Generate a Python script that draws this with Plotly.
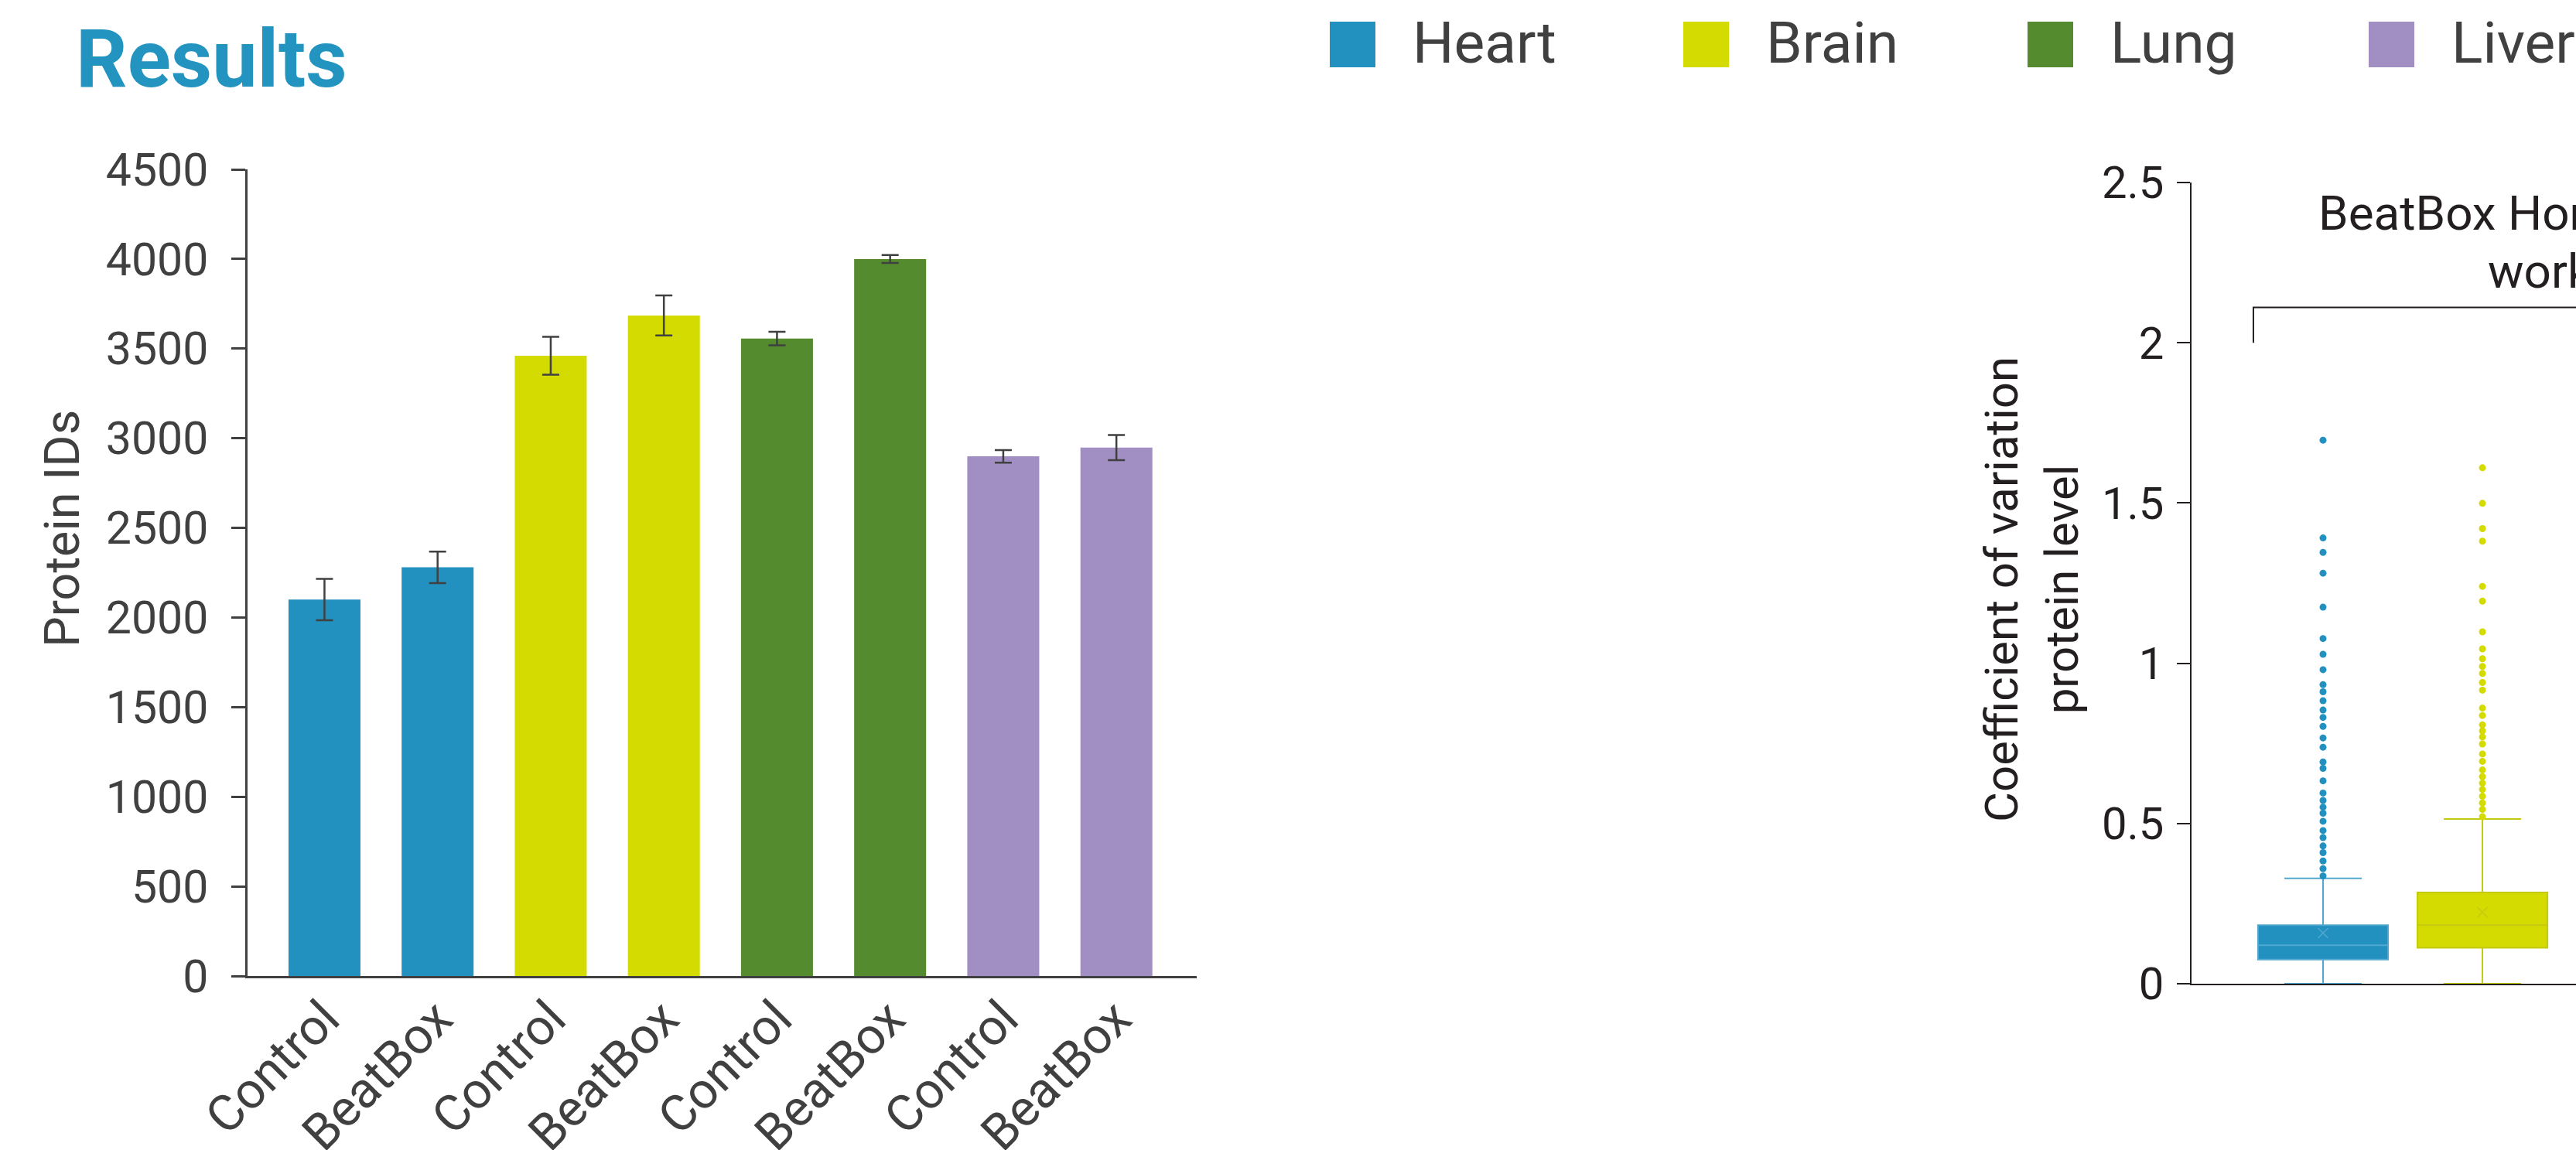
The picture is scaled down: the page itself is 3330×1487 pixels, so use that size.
import plotly.graph_objects as go

# ---------------- data ----------------
tissues = ["Heart", "Brain", "Lung", "Liver"]
tissue_colors = ["#2291C0", "#D4DB00", "#548B2E", "#A18FC3"]
box_line_colors = ["#52A8CE", "#C4CA12"]
conditions = ["Control", "BeatBox"]

# bar chart: protein IDs (Control, BeatBox for each tissue)
protein_ids = [2100, 2280, 3460, 3685, 3556, 4000, 2899, 2948]
protein_err = [115, 88, 106, 112, 38, 22, 35, 70]
bar_labels = ["Control", "BeatBox", "Control", "BeatBox", "Control", "BeatBox", "Control", "BeatBox"]
bar_tissue = ["Heart", "Heart", "Brain", "Brain", "Lung", "Lung", "Liver", "Liver"]

# box plot: coefficient of variation (BeatBox workflow)
box_tissues = ["Heart", "Brain"]
cv_q1 = [0.0755, 0.112]
cv_median = [0.120, 0.183]
cv_q3 = [0.183, 0.285]
cv_mean = [0.158, 0.223]
cv_lowerfence = [0.0, 0.0]
cv_upperfence = [0.329, 0.514]
heart_outliers = [1.696, 1.391, 1.346, 1.281, 1.175, 1.077, 1.028, 0.980, 0.933, 0.911,
                  0.883, 0.854, 0.831, 0.803, 0.767, 0.738, 0.692, 0.672, 0.633, 0.595,
                  0.572, 0.551, 0.532, 0.507, 0.478, 0.456, 0.430, 0.409, 0.383, 0.359, 0.336]
brain_outliers = [1.610, 1.499, 1.420, 1.381, 1.240, 1.194, 1.098, 1.045, 1.014, 0.990,
                  0.968, 0.940, 0.916, 0.860, 0.837, 0.808, 0.789, 0.770, 0.748, 0.717,
                  0.694, 0.667, 0.646, 0.626, 0.606, 0.585, 0.564, 0.544, 0.521]
box_yticks = [0, 0.5, 1, 1.5, 2, 2.5]
box_yticktext = ["0", "0.5", "1", "1.5", "2", "2.5"]

# ---------------- layout helpers ----------------
W, H = 3330, 1487
def px(x):
    return x / W
def py(y):
    return 1 - y / H

GRAY = "#404040"
DARK = "#231F20"
FONT = "Roboto"
color_of = dict(zip(tissues, tissue_colors))

fig = go.Figure()

# bars
xpos = list(range(len(protein_ids)))
fig.add_trace(go.Bar(
    x=xpos, y=protein_ids,
    width=0.636,
    marker=dict(color=[color_of[t] for t in bar_tissue], line=dict(width=0)),
    error_y=dict(type="data", array=protein_err, color=GRAY, thickness=2.5, width=11),
    xaxis="x", yaxis="y", showlegend=False,
))

# boxes
outliers = [heart_outliers, brain_outliers]
for i, t in enumerate(box_tissues):
    fig.add_trace(go.Box(
        x=[i], q1=[cv_q1[i]], median=[cv_median[i]], q3=[cv_q3[i]],
        lowerfence=[cv_lowerfence[i]], upperfence=[cv_upperfence[i]],
        width=0.816, whiskerwidth=0.595,
        fillcolor=color_of[t], line=dict(color=box_line_colors[i], width=2),
        boxpoints=False, xaxis="x2", yaxis="y2", showlegend=False,
    ))
    fig.add_trace(go.Scatter(
        x=[i] * len(outliers[i]), y=outliers[i], mode="markers",
        marker=dict(color=color_of[t], size=9, line=dict(width=0)),
        xaxis="x2", yaxis="y2", showlegend=False,
    ))
    fig.add_trace(go.Scatter(
        x=[i], y=[cv_mean[i]], mode="markers",
        marker=dict(symbol="x-thin", size=13, line=dict(color=box_line_colors[i], width=1.5)),
        xaxis="x2", yaxis="y2", showlegend=False,
    ))

shapes = []
annotations = []

# legend (manual)
legend_sq_x = [1719, 2176, 2621, 3062]
for t, c, x0 in zip(tissues, tissue_colors, legend_sq_x):
    shapes.append(dict(type="rect", xref="paper", yref="paper",
                       x0=px(x0), x1=px(x0 + 59), y0=py(87), y1=py(28),
                       fillcolor=c, line=dict(width=0)))
    annotations.append(dict(text=t, xref="paper", yref="paper", x=px(x0 + 105), y=py(55),
                            xanchor="left", yanchor="middle", showarrow=False,
                            font=dict(family=FONT, size=75, color=GRAY)))

# title
annotations.append(dict(text="<b>Results</b>", xref="paper", yref="paper", x=px(96), y=py(76),
                        xanchor="left", yanchor="middle", showarrow=False,
                        font=dict(family=FONT, size=104, color="#2394C0")))

# y-axis titles
annotations.append(dict(text="Protein IDs", xref="paper", yref="paper", x=px(81), y=py(684),
                        xanchor="center", yanchor="middle", textangle=-90, showarrow=False,
                        font=dict(family=FONT, size=63, color=GRAY)))
annotations.append(dict(text="Coefficient of variation<br>protein level", xref="paper", yref="paper",
                        x=px(2626), y=py(762), xanchor="center", yanchor="middle", textangle=-90,
                        showarrow=False, font=dict(family=FONT, size=60, color=DARK)))

# bracket + workflow label
shapes.append(dict(type="path", xref="x2", yref="y2",
                   path="M -0.437,2.0 L -0.437,2.11 L 2.5,2.11",
                   line=dict(color=DARK, width=2)))
annotations.append(dict(text="BeatBox Homogenization", xref="paper", yref="paper", x=px(2995), y=py(275),
                        xanchor="left", yanchor="middle", showarrow=False,
                        font=dict(family=FONT, size=62, color=DARK)))
annotations.append(dict(text="workflow", xref="paper", yref="paper", x=px(3214), y=py(350),
                        xanchor="left", yanchor="middle", showarrow=False,
                        font=dict(family=FONT, size=62, color=DARK)))

fig.update_layout(
    width=W, height=H, margin=dict(l=0, r=0, t=0, b=0, pad=0, autoexpand=False),
    paper_bgcolor="white", plot_bgcolor="white",
    font=dict(family=FONT, color=GRAY),
    showlegend=False,
    shapes=shapes, annotations=annotations,
    xaxis=dict(domain=[px(320), px(1547)], range=[-0.68, 7.71], automargin=False,
               tickvals=xpos, ticktext=bar_labels, tickangle=-45,
               ticklabelstandoff=-12, ticklabelshift=0,
               tickfont=dict(family=FONT, size=65, color=GRAY),
               showline=True, linecolor=GRAY, linewidth=2.5, ticks="",
               showgrid=False, zeroline=False, anchor="y"),
    yaxis=dict(domain=[py(1262), py(219)], range=[0, 4500], dtick=500, automargin=False,
               ticklabelstandoff=18,
               tickfont=dict(family=FONT, size=59, color=GRAY),
               showline=True, linecolor=GRAY, linewidth=2.5,
               ticks="outside", ticklen=18, tickwidth=2.5, tickcolor=GRAY,
               showgrid=False, zeroline=False, anchor="x"),
    xaxis2=dict(domain=[px(2833), 1.0], range=[-0.825, 1.587], automargin=False,
                showticklabels=False, ticks="", showline=True, linecolor=DARK, linewidth=2,
                showgrid=False, zeroline=False, anchor="y2"),
    yaxis2=dict(domain=[py(1272), py(236)], range=[0, 2.5], automargin=False,
                tickvals=box_yticks, ticktext=box_yticktext, ticklabelstandoff=5,
                tickfont=dict(family=FONT, size=58, color=DARK),
                showline=True, linecolor=DARK, linewidth=2,
                ticks="outside", ticklen=17, tickwidth=2, tickcolor=DARK,
                showgrid=False, zeroline=False, anchor="x2"),
)

fig.write_html("out.html")
